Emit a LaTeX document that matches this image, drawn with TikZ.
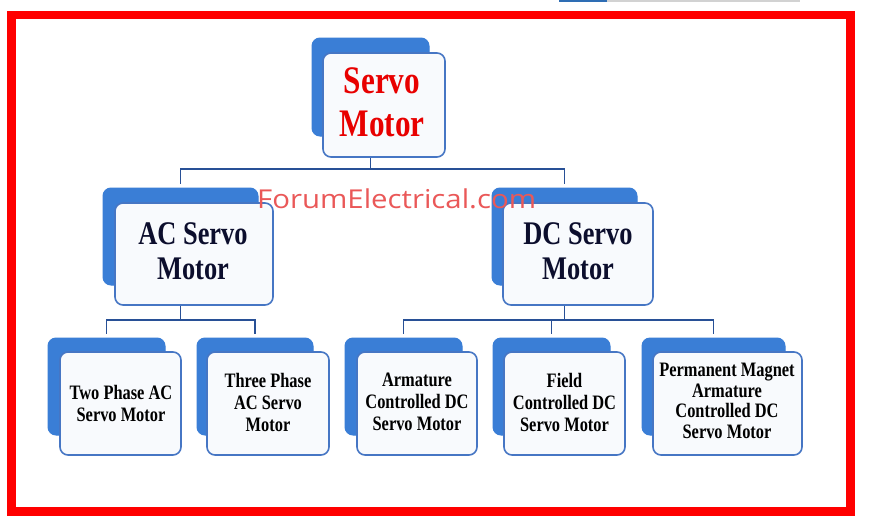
\documentclass[tikz,border=0pt]{standalone}
\usepackage{fontspec}
\setmainfont{Liberation Serif}[FakeStretch=0.8]
\newfontfamily\wmfont[FakeStretch=1.13]{Open Sans}
\usetikzlibrary{calc}
\definecolor{backblue}{RGB}{58,126,214}
\definecolor{edgeblue}{RGB}{70,118,196}
\definecolor{connblue}{RGB}{40,80,150}
\definecolor{frontfill}{RGB}{248,250,253}
\definecolor{navytext}{RGB}{12,14,45}
\definecolor{wmred}{RGB}{234,88,88}
\definecolor{framered}{RGB}{255,0,0}
\definecolor{servored}{RGB}{232,0,0}
\definecolor{barblue}{RGB}{46,109,180}
\definecolor{bargray}{RGB}{210,210,210}
\tikzset{
  backbox/.style={draw=backblue, fill=backblue, rounded corners=8pt, line width=1pt, inner sep=0pt},
  frontbox/.style={draw=edgeblue, fill=frontfill, rounded corners=8pt, line width=1.6pt, inner sep=0pt, align=center},
  topfont/.style={font=\bfseries\fontsize{39}{43}\selectfont, text=servored},
  midfont/.style={font=\bfseries\fontsize{33}{35}\selectfont, text=navytext},
  lowfont/.style={font=\bfseries\fontsize{20.5}{22}\selectfont, text=black},
  conn/.style={draw=connblue, line width=1.8pt},
}
\begin{document}
\begin{tikzpicture}[x=1pt,y=-1pt]
\useasboundingbox (0,0) rectangle (869,530);
\fill[white] (0,0) rectangle (869,530);
% top screenshot bar
\fill[barblue] (559,0) rectangle (607,2);
\fill[bargray] (607,0) rectangle (800,1.5);
% frame
\draw[framered, line width=8.5pt] (11.5,15) rectangle (850.5,511.5);

% back boxes
\node[backbox, minimum width=117pt, minimum height=98pt] (servoB) at (370.5,87) {};
\node[backbox, minimum width=155pt, minimum height=97pt] (acB) at (180.5,236.5) {};
\node[backbox, minimum width=145pt, minimum height=97pt] (dcB) at (564.5,236.5) {};
\node[backbox, minimum width=117pt, minimum height=97pt] (b1B) at (106.5,386.5) {};
\node[backbox, minimum width=116pt, minimum height=97pt] (b2B) at (255,386.5) {};
\node[backbox, minimum width=117pt, minimum height=97pt] (b3B) at (403.5,386.5) {};
\node[backbox, minimum width=117pt, minimum height=97pt] (b4B) at (551.5,386.5) {};
\node[backbox, minimum width=143pt, minimum height=97pt] (b5B) at (713.5,386.5) {};

% front boxes
\node[frontbox, minimum width=122pt, minimum height=104pt] (servo) at (384,105) {};
\node[topfont, align=center] (servoT) at (382,102) {Servo\\Motor};
\node[frontbox, minimum width=158pt, minimum height=102pt] (ac) at (194,254) {};
\node[midfont, align=center] (acT) at (193,251) {AC Servo\\Motor};
\node[frontbox, minimum width=150pt, minimum height=102pt] (dc) at (578,254) {};
\node[midfont, align=center] (dcT) at (578,251) {DC Servo\\Motor};
\node[frontbox, minimum width=121pt, minimum height=103pt] (b1) at (120.5,403.5) {};
\node[lowfont, align=center] (b1T) at (121,403) {Two Phase AC\\Servo Motor};
\node[frontbox, minimum width=122pt, minimum height=103pt] (b2) at (268,403.5) {};
\node[lowfont, align=center] (b2T) at (268,402) {Three Phase\\AC Servo\\Motor};
\node[frontbox, minimum width=120pt, minimum height=103pt] (b3) at (417,403.5) {};
\node[lowfont, align=center] (b3T) at (417,402) {Armature\\Controlled DC\\Servo Motor};
\node[frontbox, minimum width=121pt, minimum height=103pt] (b4) at (564.5,403.5) {};
\node[lowfont, align=center] (b4T) at (564.5,402) {Field\\Controlled DC\\Servo Motor};
\node[frontbox, minimum width=149pt, minimum height=103pt] (b5) at (727.5,403.5) {};
\node[lowfont, align=center, font=\bfseries\fontsize{20.5}{20.5}\selectfont] (b5T) at (727,401) {Permanent Magnet\\Armature\\Controlled DC\\Servo Motor};

% connectors
\coordinate (bus0) at (370.5,169);
\coordinate (bus1) at (180.5,320);
\coordinate (bus2) at (564.5,320);
\draw[conn] (servoB |- servo.south) -- (bus0);
\draw[conn, shorten <=4pt, shorten >=4pt] (acB.north) |- (bus0) -| (dcB.north);
\draw[conn] (acB |- ac.south) -- (bus1);
\draw[conn, shorten <=4pt, shorten >=4pt] (b1B.north) |- (bus1) -| (b2B.north);
\draw[conn] (dcB |- dc.south) -- (bus2);
\draw[conn, shorten <=4pt, shorten >=4pt] (b3B.north) |- (bus2) -| (b5B.north);
\draw[conn, shorten <=4pt] (b4B.north) -- (b4B.north |- bus2);

% watermark
\node[anchor=base west, inner sep=0pt, text=wmred, font=\wmfont\fontsize{26}{30}\selectfont] (wm) at (257,208) {ForumElectrical.com};
\end{tikzpicture}
\end{document}
